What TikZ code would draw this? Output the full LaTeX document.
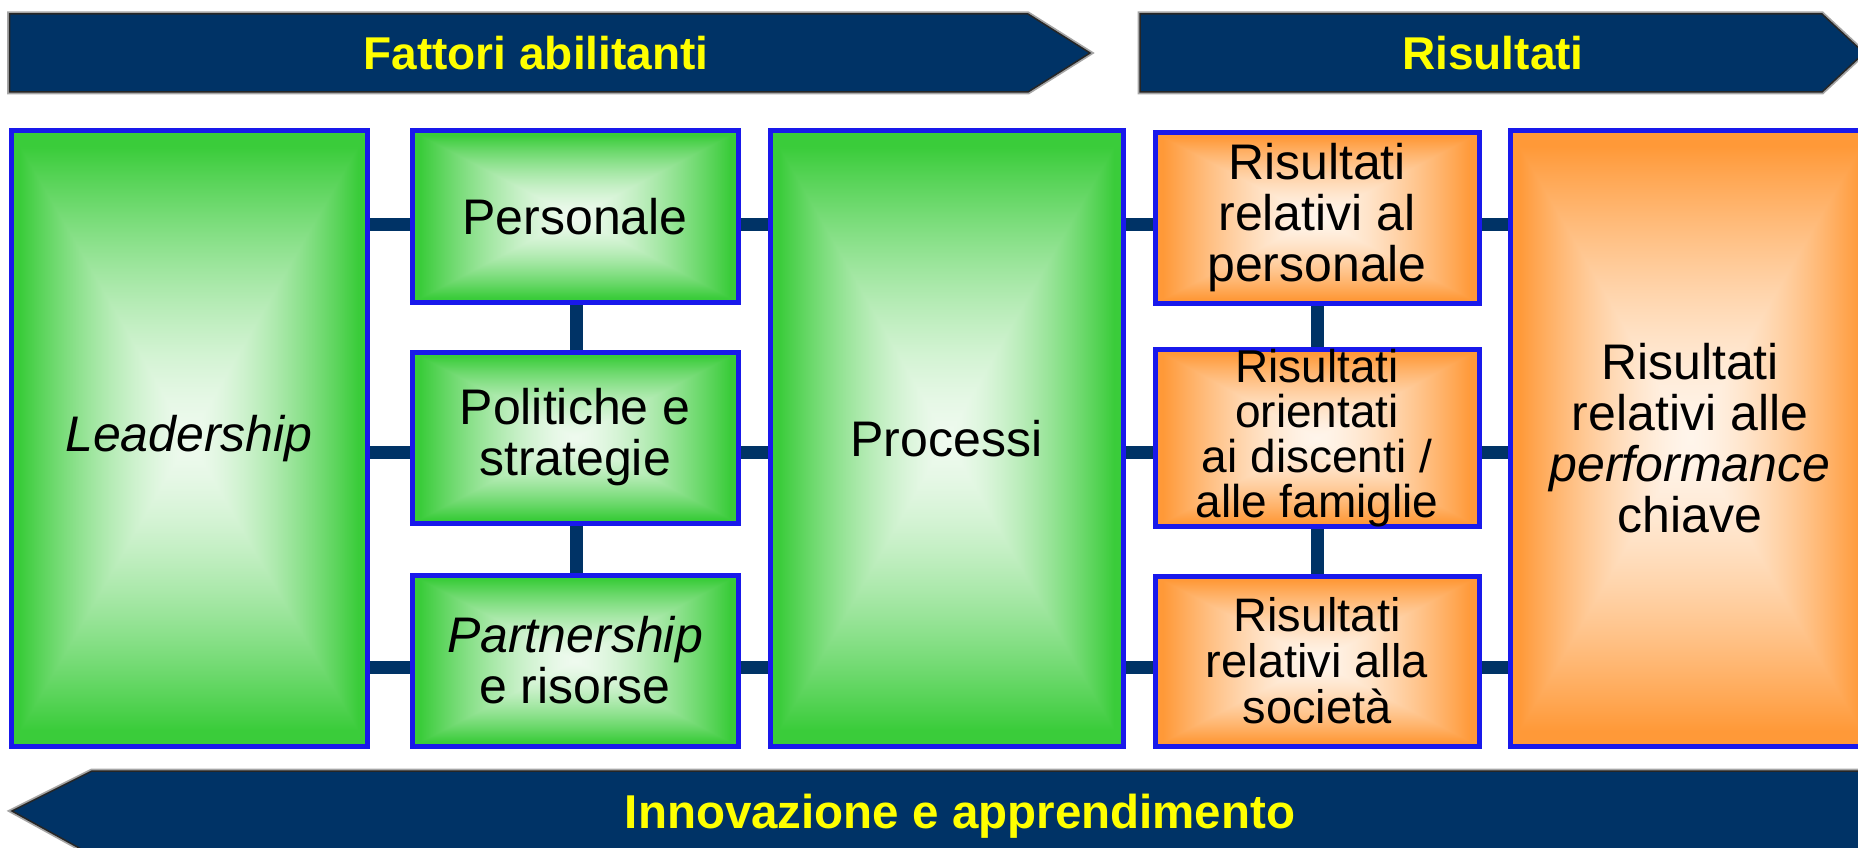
\documentclass[tikz,border=0pt]{standalone}
\usepackage{fontspec}
\setmainfont{Liberation Sans}
\definecolor{navy}{RGB}{0,51,102}
\definecolor{bC}{RGB}{25,25,235}
\definecolor{yel}{RGB}{255,255,0}
% picture-frame glow: colour = W + (G-W)*s^1.5, s = max(|x|,|y|)/(0.95*25)
\pgfdeclarefunctionalshading{gframe}{\pgfpoint{-50bp}{-50bp}}{\pgfpoint{50bp}{50bp}}{}{
  abs exch abs 2 copy lt {exch} if pop
  23.75 div dup 1 gt {pop 1} if
  dup sqrt mul
  dup dup
  -0.707 mul 0.934 add
  3 1 roll
  -0.18 mul 0.98 add
  3 1 roll
  -0.707 mul 0.934 add
  3 1 roll
}
\pgfdeclarefunctionalshading{oframe}{\pgfpoint{-50bp}{-50bp}}{\pgfpoint{50bp}{50bp}}{}{
  abs exch abs 2 copy lt {exch} if pop
  23.75 div dup 1 gt {pop 1} if
  dup sqrt mul
  dup dup
  -0.70 mul 0.92 add
  3 1 roll
  -0.36 mul 0.96 add
  3 1 roll
  0 mul 1 add
  3 1 roll
}
\pgfdeclarelayer{bg}
\pgfsetlayers{bg,main}
\tikzset{
  boxbase/.style={draw=bC, line width=5pt, inner sep=0pt, align=center, font=\fontsize{50}{51}\selectfont},
  gbox/.style={boxbase, shade, shading=gframe},
  obox/.style={boxbase, shade, shading=oframe},
  conn/.style={draw=navy, line width=13pt},
  bandglow/.style={draw=black!35, line width=5pt, line join=miter},
  band/.style={fill=navy, draw=black!85, line width=1.5pt},
  bandtxt/.style={text=yel, font=\bfseries\fontsize{46}{46}\selectfont, inner sep=0pt},
}
\begin{document}
\begin{tikzpicture}[x=1pt,y=-1pt]
\useasboundingbox (0,0) rectangle (1858,848);
% bands
\path[bandglow] (9.5,14) -- (1028,14) -- (1090,53) -- (1028,92) -- (9.5,92) -- cycle;
\path[band] (9.5,14) -- (1028,14) -- (1090,53) -- (1028,92) -- (9.5,92) -- cycle;
\path[bandglow] (1140,14) -- (1822,14) -- (1864,53) -- (1822,92) -- (1140,92) -- cycle;
\path[band] (1140,14) -- (1822,14) -- (1864,53) -- (1822,92) -- (1140,92) -- cycle;
\path[bandglow] (12,811) -- (92,771) -- (1880,771) -- (1880,855) -- (92,855) -- cycle;
\path[band] (12,811) -- (92,771) -- (1880,771) -- (1880,855) -- (92,855) -- cycle;
\node[bandtxt] (fa) at (536,53) {Fattori abilitanti};
\node[bandtxt] (ri) at (1493,53) {Risultati};
\node[bandtxt, font=\bfseries\fontsize{47.5}{47.5}\selectfont] (ia) at (960,816) {Innovazione e apprendimento};
% boxes
\node[gbox, minimum width=356, minimum height=615] (lead) at (189,438.5) {\textit{Leadership}};
\node[gbox, minimum width=326, minimum height=171] (pers) at (575,216.5) {Personale};
\node[gbox, minimum width=326, minimum height=171] (pol) at (575,437.5) {Politiche e\\strategie};
\node[gbox, minimum width=326, minimum height=171] (part) at (575,660.5) {\textit{Partnership}\\e risorse};
\node[gbox, minimum width=353, minimum height=615] (proc) at (946.5,438.5) {Processi};
\node[obox, minimum width=324, minimum height=170] (r1) at (1317,218) {Risultati\\relativi al\\personale};
\node[obox, minimum width=324, minimum height=170, font=\fontsize{46}{45}\selectfont] (r2) at (1317,438) {Risultati\\orientati\\ai discenti /\\alle famiglie};
\node[obox, minimum width=324, minimum height=170, font=\fontsize{47}{46}\selectfont] (r3) at (1317,661) {Risultati\\relativi alla\\società};
\node[obox, minimum width=360, minimum height=615] (perf) at (1690,438.5) {Risultati\\relativi alle\\\textit{performance}\\chiave};
% connector levels
\coordinate (l1) at (0,224);
\coordinate (l2) at (0,452);
\coordinate (l3) at (0,667);
\coordinate (vl) at (576.5,0);
\coordinate (vr) at (1317,0);
\begin{pgfonlayer}{bg}
\draw[conn] (lead.east |- l1) -- (pers.west |- l1);
\draw[conn] (pers.east |- l1) -- (proc.west |- l1);
\draw[conn] (proc.east |- l1) -- (r1.west |- l1);
\draw[conn] (r1.east |- l1) -- (perf.west |- l1);
\draw[conn] (lead.east |- l2) -- (pol.west |- l2);
\draw[conn] (pol.east |- l2) -- (proc.west |- l2);
\draw[conn] (proc.east |- l2) -- (r2.west |- l2);
\draw[conn] (r2.east |- l2) -- (perf.west |- l2);
\draw[conn] (lead.east |- l3) -- (part.west |- l3);
\draw[conn] (part.east |- l3) -- (proc.west |- l3);
\draw[conn] (proc.east |- l3) -- (r3.west |- l3);
\draw[conn] (r3.east |- l3) -- (perf.west |- l3);
\draw[conn] (pers.south -| vl) -- (pol.north -| vl);
\draw[conn] (pol.south -| vl) -- (part.north -| vl);
\draw[conn] (r1.south -| vr) -- (r2.north -| vr);
\draw[conn] (r2.south -| vr) -- (r3.north -| vr);
\end{pgfonlayer}
\end{tikzpicture}
\end{document}
